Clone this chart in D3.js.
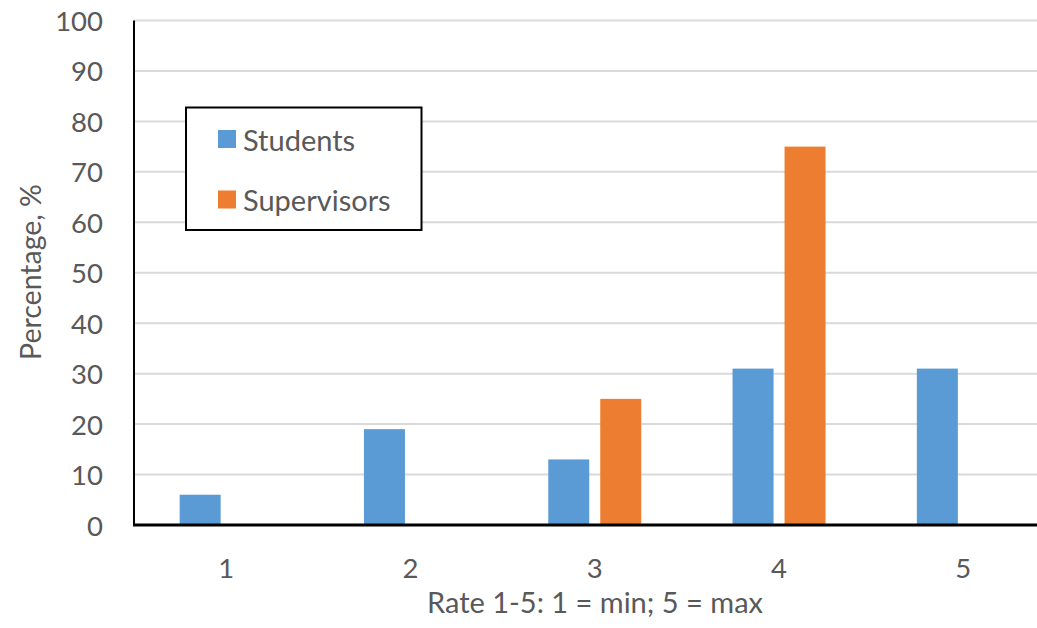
<!DOCTYPE html>
<html>
<head>
<meta charset="utf-8">
<script src="https://cdn.jsdelivr.net/npm/d3@7"></script>
<style>
  html, body { margin: 0; padding: 0; background: #fff; }
  svg { display: block; font-family: Lato, "Open Sans", sans-serif; }
</style>
</head>
<body>
<svg id="chart" width="1037" height="628"></svg>
<script>
// Rating categories and percentages per respondent group
const categories = ["1", "2", "3", "4", "5"];
const seriesNames = ["Students", "Supervisors"];
const students = [6, 19, 13, 31, 31];
const supervisors = [0, 0, 25, 75, 0];
const yTicks = [0, 10, 20, 30, 40, 50, 60, 70, 80, 90, 100];
const colors = ["#5b9bd5", "#ed7d31"];

const svg = d3.select("#chart");
const plotLeft = 134, plotTop = 20.5, plotBottom = 525;
const bandW = 184.3;
const plotRight = plotLeft + bandW * categories.length;
const textColor = "#595959";

const x = d3.scaleBand().domain(categories).range([plotLeft, plotRight]).padding(0);
const inner = d3.scaleBand().domain(seriesNames).range([0, x.bandwidth()])
  .paddingInner(0.2115).paddingOuter(0.878);
const y = d3.scaleLinear().domain([0, 100]).range([plotBottom, plotTop]);

// horizontal gridlines
svg.append("g").selectAll("line").data(yTicks.filter(d => d > 0)).join("line")
  .attr("x1", plotLeft).attr("x2", 1037)
  .attr("y1", d => y(d)).attr("y2", d => y(d))
  .attr("stroke", "#d9d9d9").attr("stroke-width", 2);

// y tick labels
svg.append("g").selectAll("text").data(yTicks).join("text")
  .attr("x", 103).attr("y", d => y(d))
  .attr("text-anchor", "end").attr("dominant-baseline", "central")
  .attr("fill", textColor).attr("font-size", 27.5)
  .text(d => d);

// bars
const rows = categories.map((c, i) => ({ cat: c, vals: [students[i], supervisors[i]] }));
const groups = svg.append("g").selectAll("g").data(rows).join("g")
  .attr("transform", d => `translate(${x(d.cat)},0)`);
groups.selectAll("rect").data(d => d.vals.map((v, j) => ({ name: seriesNames[j], v, j })))
  .join("rect")
  .attr("x", d => inner(d.name))
  .attr("width", inner.bandwidth())
  .attr("y", d => y(d.v))
  .attr("height", d => y(0) - y(d.v))
  .attr("fill", d => colors[d.j]);

// axis lines
svg.append("line").attr("x1", plotLeft).attr("x2", plotLeft).attr("y1", plotTop).attr("y2", plotBottom)
  .attr("stroke", "#000").attr("stroke-width", 2);
svg.append("line").attr("x1", plotLeft - 1).attr("x2", 1037).attr("y1", plotBottom).attr("y2", plotBottom)
  .attr("stroke", "#000").attr("stroke-width", 3);

// x tick labels
svg.append("g").selectAll("text").data(categories).join("text")
  .attr("x", d => x(d) + x.bandwidth() / 2).attr("y", 567)
  .attr("text-anchor", "middle").attr("dominant-baseline", "central")
  .attr("fill", textColor).attr("font-size", 27.5)
  .text(d => d);

// axis titles
svg.append("text").attr("x", 595).attr("y", 601)
  .attr("text-anchor", "middle").attr("dominant-baseline", "central")
  .attr("fill", textColor).attr("font-size", 29)
  .text("Rate 1-5: 1 = min; 5 = max");
svg.append("text")
  .attr("transform", "translate(30,272) rotate(-90)")
  .attr("text-anchor", "middle").attr("dominant-baseline", "central")
  .attr("fill", textColor).attr("font-size", 28.5)
  .text("Percentage, %");

// legend
const lg = svg.append("g");
lg.append("rect").attr("x", 186).attr("y", 107.5).attr("width", 235.5).attr("height", 122.5)
  .attr("fill", "#fff").attr("stroke", "#000").attr("stroke-width", 2);
seriesNames.forEach((n, i) => {
  const cy = 139 + i * 60.5;
  lg.append("rect").attr("x", 218).attr("y", cy - 9).attr("width", 18).attr("height", 18)
    .attr("fill", colors[i]);
  lg.append("text").attr("x", 243).attr("y", cy)
    .attr("dominant-baseline", "central")
    .attr("fill", textColor).attr("font-size", 29)
    .text(n);
});
</script>
</body>
</html>
